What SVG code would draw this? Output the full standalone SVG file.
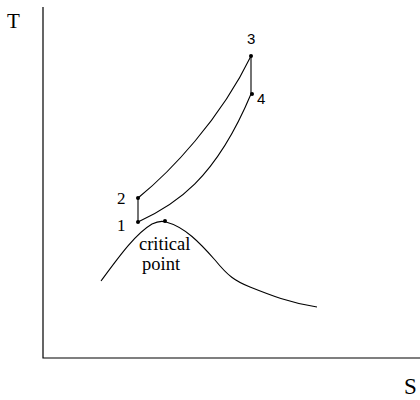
<svg xmlns="http://www.w3.org/2000/svg" width="420" height="400" viewBox="0 0 420 400">
<style>
.ln{fill:none;stroke:#000;stroke-width:1.1}
.ax{fill:none;stroke:#000;stroke-width:1.2}
.pt{fill:#000}
text{font-family:"Liberation Serif","DejaVu Serif","Times New Roman",serif;fill:#000}
.sans{font-family:"Liberation Sans",Arial,sans-serif;font-size:15px}
.lb{font-size:17px}
.cp{font-size:18.5px}
</style>
<rect width="420" height="400" fill="#fff"/>
<g id="axes">
<path class="ax" d="M43,7 V358 H420"/>
<text x="7" y="28" font-size="21">T</text>
<text x="404" y="394" font-size="23">S</text>
</g>
<g id="connectors">
<path class="ln" d="M138,198 V222"/>
<path class="ln" d="M251,56 V94"/>
<path class="ln" d="M138,198 C170,172 220,120 251,56"/>
<path class="ln" d="M138,222 C175,205 215,180 251,94"/>
<path class="ln" d="M101,281 C118,258 135,234 152,224 C158,221 163,221 166,222 C185,227 200,243 215,260 C228,276 235,281 250,287 C270,295 290,303 317,307"/>
</g>
<g id="p1"><circle class="pt" cx="138" cy="222" r="2"/><text class="lb" x="117" y="231">1</text></g>
<g id="p2"><circle class="pt" cx="138" cy="198" r="2"/><text class="lb" x="117" y="204">2</text></g>
<g id="p3"><circle class="pt" cx="251" cy="56" r="2"/><text class="sans" x="247" y="44">3</text></g>
<g id="p4"><circle class="pt" cx="252" cy="94" r="2"/><text class="sans" x="257" y="104">4</text></g>
<g id="cp"><circle class="pt" cx="165" cy="221" r="2"/><text class="cp" x="139" y="250">critical</text><text class="cp" x="142" y="270">point</text></g>
</svg>
